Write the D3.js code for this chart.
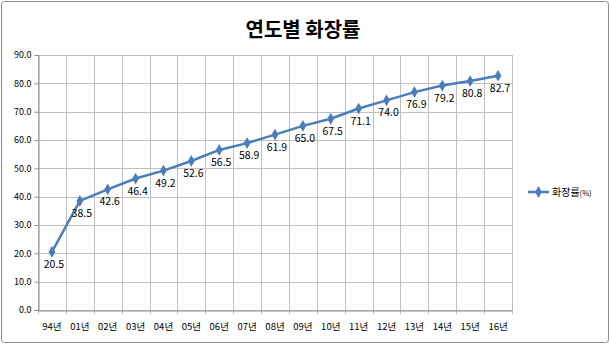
<!DOCTYPE html>
<html><head><meta charset="utf-8">
<script src="https://cdn.jsdelivr.net/npm/d3@7"></script>
<style>
body{margin:0;background:#fff;}
text{font-family:"Noto Sans CJK KR","Noto Sans",sans-serif;}
</style></head>
<body>
<svg id="c" width="610" height="344"></svg>
<script>
const categories = ["94년","01년","02년","03년","04년","05년","06년","07년","08년","09년","10년","11년","12년","13년","14년","15년","16년"];
const values = [20.5,38.5,42.6,46.4,49.2,52.6,56.5,58.9,61.9,65.0,67.5,71.1,74.0,76.9,79.2,80.8,82.7];
const yTicks = [0,10,20,30,40,50,60,70,80,90];
const seriesName = "화장률(%)";
const title = "연도별 화장률";

const svg = d3.select("#c");
svg.append("rect").attr("x",1.5).attr("y",1.5).attr("width",607).attr("height",341)
  .attr("rx",3).attr("fill","#fff").attr("stroke","#8c8c8c").attr("stroke-width",1);

const L=38, R=512, T=55, B=310;
const x = d3.scaleBand().domain(categories).range([L,R]);
const y = d3.scaleLinear().domain([0,90]).range([B,T]);

svg.append("text").attr("x",303).attr("y",37).attr("text-anchor","middle")
  .attr("font-size",20).attr("font-weight","bold").attr("fill","#000").text(title);

// horizontal grid
svg.append("g").selectAll("line").data(yTicks).join("line")
  .attr("x1",L).attr("x2",R).attr("y1",d=>Math.round(y(d))+0.5).attr("y2",d=>Math.round(y(d))+0.5)
  .attr("stroke","#bfbfbf").attr("stroke-width",1);
// vertical grid
const bounds = categories.map(c=>x(c)).concat([R]);
svg.append("g").selectAll("line").data(bounds).join("line")
  .attr("x1",d=>Math.round(d)+0.5).attr("x2",d=>Math.round(d)+0.5).attr("y1",T).attr("y2",B+4)
  .attr("stroke","#bfbfbf").attr("stroke-width",1);

// y axis
const yAxis = svg.append("g").attr("transform",`translate(${L+0.5},0)`)
  .call(d3.axisLeft(y).tickValues(yTicks).tickFormat(d3.format(".1f")).tickSize(4).tickPadding(3));
yAxis.select(".domain").attr("stroke","#8c8c8c");
yAxis.selectAll(".tick line").attr("stroke","#8c8c8c");
yAxis.selectAll("text").attr("font-size",9).attr("fill","#000")
  .style("font-family","'Noto Sans CJK KR',sans-serif");

// x axis
const xAxis = svg.append("g").attr("transform",`translate(0,${B+0.5})`)
  .call(d3.axisBottom(x).tickSize(0).tickPadding(13));
xAxis.select(".domain").attr("stroke","#8c8c8c");
xAxis.selectAll("text").attr("font-size",9.5).attr("fill","#000")
  .style("font-family","'Noto Sans CJK KR',sans-serif");

const cx = d=>x(d)+x.bandwidth()/2;
const color = "#4a7ebb";
svg.append("path").datum(values)
  .attr("d", d3.line().x((d,i)=>cx(categories[i])).y(d=>y(d)))
  .attr("fill","none").attr("stroke",color).attr("stroke-width",2.5);

const diamond = d3.symbol().type(d3.symbolDiamond).size(40);
svg.append("g").selectAll("path").data(values).join("path")
  .attr("d",diamond).attr("transform",(d,i)=>`translate(${cx(categories[i])},${y(d)})`)
  .attr("fill",color);

svg.append("g").selectAll("text").data(values).join("text")
  .attr("x",(d,i)=>cx(categories[i])+2).attr("y",d=>y(d)+16)
  .attr("text-anchor","middle").attr("font-size",10.5).attr("fill","#000")
  .text(d=>d.toFixed(1));

// legend
const lg = svg.append("g").attr("transform","translate(528,192)");
lg.append("line").attr("x1",0).attr("x2",21).attr("y1",0).attr("y2",0).attr("stroke",color).attr("stroke-width",2.5);
lg.append("path").attr("d",diamond).attr("transform","translate(10.5,0)").attr("fill",color);
lg.append("text").attr("x",24).attr("y",4).attr("font-size",10).attr("fill","#000")
  .text("화장률").append("tspan").attr("font-size",7.5).text("(%)");
</script>
</body></html>
